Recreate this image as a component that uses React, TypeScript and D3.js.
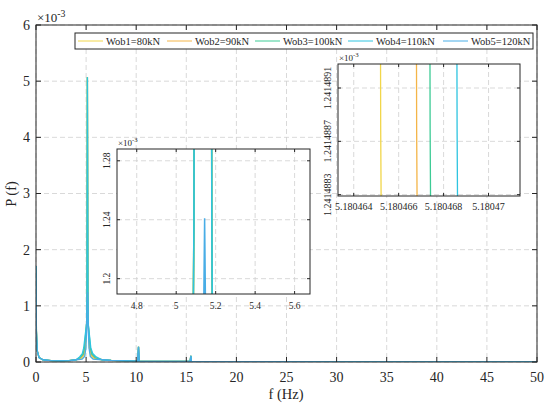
import * as d3 from "d3";
import React from "react";

// spectrum values are in units of 1e-3
type Pt = [number, number];

const seriesNames = ["Wob1=80kN", "Wob2=90kN", "Wob3=100kN", "Wob4=110kN", "Wob5=120kN"];
const seriesColors = ["#f1d64a", "#f4b548", "#3dcb95", "#2ec4e0", "#48ade6"];

const lowBand: Pt[] = [
  [0, 1.71], [0.04, 0.55], [0.12, 0.2], [0.3, 0.08], [0.7, 0.04],
  [1.5, 0.025], [2.5, 0.02], [3.3, 0.025], [4.0, 0.04],
];
const highBand: Pt[] = [
  [6.6, 0.04], [7.5, 0.03], [9, 0.02], [10.15, 0.015], [10.23, 0.27], [10.3, 0.015],
  [12, 0.01], [15.38, 0.01], [15.45, 0.11], [15.52, 0.008], [20, 0.006],
  [30, 0.004], [40, 0.003], [50, 0.003],
];

const wob1Peak: Pt[] = [
  [4.5, 0.06], [4.8, 0.12], [4.93, 0.25], [5.06, 0.7], [5.09, 1.24], [5.13, 5.07],
  [5.1804652, 1.2414888], [5.2, 0.7], [5.33, 0.25], [5.47, 0.12], [5.8, 0.06],
];
const wob2Peak: Pt[] = [
  [4.45, 0.07], [4.75, 0.13], [4.88, 0.25], [5.06, 0.7], [5.09, 1.24], [5.13, 5.07],
  [5.1804668, 1.2414888], [5.2, 0.7], [5.38, 0.25], [5.52, 0.13], [5.85, 0.07],
];
const wob3Peak: Pt[] = [
  [4.4, 0.08], [4.7, 0.14], [4.83, 0.25], [5.06, 0.7], [5.09, 1.24], [5.13, 5.07],
  [5.1804674, 1.2414888], [5.2, 0.7], [5.43, 0.25], [5.58, 0.14], [5.9, 0.08],
];
const wob4Peak: Pt[] = [
  [4.35, 0.09], [4.62, 0.15], [4.76, 0.25], [5.06, 0.7], [5.09, 1.24], [5.13, 5.07],
  [5.1804686, 1.2414888], [5.2, 0.7], [5.47, 0.25], [5.66, 0.15], [6.0, 0.09],
];
const wob5Peak: Pt[] = [
  [4.6, 0.05], [4.86, 0.1], [4.98, 0.25], [5.06, 0.6], [5.138, 1.16], [5.144, 1.241],
  [5.15, 1.16], [5.21, 0.6], [5.29, 0.25], [5.42, 0.1], [5.7, 0.05],
];
const peaks = [wob1Peak, wob2Peak, wob3Peak, wob4Peak, wob5Peak];
const series: Pt[][] = peaks.map((p) => [...lowBand, ...p, ...highBand]);

const mainXTicks = [0, 5, 10, 15, 20, 25, 30, 35, 40, 45, 50];
const mainYTicks = [0, 1, 2, 3, 4, 5, 6];
const in1XTicks = [4.8, 5, 5.2, 5.4, 5.6];
const in1YTicks = [1.2, 1.24, 1.28];
const in2XTicks = [5.180464, 5.180466, 5.180468, 5.18047];
const in2XLabels = ["5.180464", "5.180466", "5.180468", "5.18047"];
const in2YTicks = [1.2414883, 1.2414887, 1.2414891];
const in2YLabels = ["1.2414883", "1.2414887", "1.2414891"];

const ink = "#262626";
const gridColor = "#cfcfcf";
const serif = "Liberation Serif";

type Box = { x0: number; x1: number; y0: number; y1: number };

// clip a polyline to the data window in data space (keeps double precision for tiny insets)
function clipToWindow(pts: Pt[], xd: [number, number], yd: [number, number]): Pt[][] {
  const out: Pt[][] = [];
  let cur: Pt[] = [];
  for (let i = 0; i < pts.length - 1; i++) {
    const [x0, y0] = pts[i];
    const [x1, y1] = pts[i + 1];
    const dx = x1 - x0, dy = y1 - y0;
    let t0 = 0, t1 = 1, ok = true;
    const p = [-dx, dx, -dy, dy];
    const q = [x0 - xd[0], xd[1] - x0, y0 - yd[0], yd[1] - y0];
    for (let k = 0; k < 4; k++) {
      if (p[k] === 0) {
        if (q[k] < 0) ok = false;
      } else {
        const r = q[k] / p[k];
        if (p[k] < 0) t0 = Math.max(t0, r);
        else t1 = Math.min(t1, r);
      }
    }
    if (!ok || t0 > t1) {
      if (cur.length) out.push(cur);
      cur = [];
      continue;
    }
    const a: Pt = [x0 + t0 * dx, y0 + t0 * dy];
    const b: Pt = [x0 + t1 * dx, y0 + t1 * dy];
    if (!cur.length || t0 > 0) {
      if (cur.length) out.push(cur);
      cur = [a];
    }
    cur.push(b);
    if (t1 < 1) {
      out.push(cur);
      cur = [];
    }
  }
  if (cur.length) out.push(cur);
  return out;
}

function Panel(props: {
  id: string;
  box: Box;
  xDomain: [number, number];
  yDomain: [number, number];
  xTicks: number[];
  yTicks: number[];
  xLabels?: string[];
  yLabels?: string[];
  fontSize: number;
  tickLen: number;
  lineWidth: number;
  rotateY: boolean;
  xLabelDy: number;
  yLabelDx: number;
  expFont: number;
}) {
  const { id, box, xTicks, yTicks, fontSize, tickLen } = props;
  const x = d3.scaleLinear().domain(props.xDomain).range([box.x0, box.x1]);
  const y = d3.scaleLinear().domain(props.yDomain).range([box.y1, box.y0]);
  const line = d3.line<Pt>().x((d) => x(d[0])).y((d) => y(d[1]));
  const fmt = (v: number) => String(+v.toPrecision(6));
  const xPad = (props.xDomain[1] - props.xDomain[0]) * 0.01;
  const yPad = (props.yDomain[1] - props.yDomain[0]) * 0.01;
  const win: [[number, number], [number, number]] = [
    [props.xDomain[0] - xPad, props.xDomain[1] + xPad],
    [props.yDomain[0] - yPad, props.yDomain[1] + yPad],
  ];
  return (
    <g>
      <defs>
        <clipPath id={id}>
          <rect x={box.x0} y={box.y0} width={box.x1 - box.x0} height={box.y1 - box.y0} />
        </clipPath>
      </defs>
      <rect x={box.x0} y={box.y0} width={box.x1 - box.x0} height={box.y1 - box.y0} fill="#fff" />
      <g stroke={gridColor} strokeWidth={0.8} strokeDasharray="5,3">
        {xTicks.map((t) => (
          <line key={"gx" + t} x1={x(t)} x2={x(t)} y1={box.y0} y2={box.y1} />
        ))}
        {yTicks.map((t) => (
          <line key={"gy" + t} x1={box.x0} x2={box.x1} y1={y(t)} y2={y(t)} />
        ))}
      </g>
      <g clipPath={`url(#${id})`} fill="none">
        {series.map((s, i) =>
          clipToWindow(s, win[0], win[1]).map((piece, j) => (
            <path
              key={i + "-" + j}
              d={line(piece) || ""}
              stroke={seriesColors[i]}
              strokeWidth={props.lineWidth}
            />
          ))
        )}
      </g>
      <g stroke={ink} strokeWidth={1}>
        {xTicks.map((t) => (
          <g key={"tx" + t}>
            <line x1={x(t)} x2={x(t)} y1={box.y1} y2={box.y1 - tickLen} />
            <line x1={x(t)} x2={x(t)} y1={box.y0} y2={box.y0 + tickLen} />
          </g>
        ))}
        {yTicks.map((t) => (
          <g key={"ty" + t}>
            <line x1={box.x0} x2={box.x0 + tickLen} y1={y(t)} y2={y(t)} />
            <line x1={box.x1} x2={box.x1 - tickLen} y1={y(t)} y2={y(t)} />
          </g>
        ))}
        <rect x={box.x0} y={box.y0} width={box.x1 - box.x0} height={box.y1 - box.y0} fill="none" />
      </g>
      <g fill={ink} fontFamily={serif} fontSize={fontSize}>
        {xTicks.map((t, i) => (
          <text key={"lx" + t} x={x(t)} y={box.y1 + props.xLabelDy} textAnchor="middle">
            {props.xLabels ? props.xLabels[i] : fmt(t)}
          </text>
        ))}
        {yTicks.map((t, i) =>
          props.rotateY ? (
            <text
              key={"ly" + t}
              transform={`translate(${box.x0 - props.yLabelDx},${y(t)}) rotate(-90)`}
              textAnchor="middle"
            >
              {props.yLabels ? props.yLabels[i] : fmt(t)}
            </text>
          ) : (
            <text key={"ly" + t} x={box.x0 - props.yLabelDx} y={y(t)} dy="0.35em" textAnchor="end">
              {props.yLabels ? props.yLabels[i] : fmt(t)}
            </text>
          )
        )}
        <text x={box.x0 + 1} y={box.y0 - 3} fontSize={props.expFont}>
          ×10
          <tspan dy={-props.expFont * 0.4} fontSize={props.expFont * 0.75}>-3</tspan>
        </text>
      </g>
    </g>
  );
}

function Legend() {
  const lineStarts = [78, 167, 255, 348, 443];
  return (
    <g>
      <rect x={75} y={33} width={458} height={16} fill="#fff" stroke={ink} strokeWidth={1} />
      {seriesNames.map((n, i) => (
        <g key={n}>
          <line x1={lineStarts[i]} x2={lineStarts[i] + 25} y1={41} y2={41} stroke={seriesColors[i]} strokeWidth={1} />
          <text x={lineStarts[i] + 28} y={44.5} fontFamily={serif} fontSize={10.5} fill={ink}>
            {n}
          </text>
        </g>
      ))}
    </g>
  );
}

export default function App() {
  return (
    <svg
      width={550}
      height={412}
      style={{ position: "absolute", left: 0, top: 0, background: "#fff" }}
    >
      <rect width={550} height={412} fill="#fff" />
      <Panel
        id="clipMain"
        box={{ x0: 36, x1: 537, y0: 25, y1: 362 }}
        xDomain={[0, 50]}
        yDomain={[0, 6]}
        xTicks={mainXTicks}
        yTicks={mainYTicks}
        fontSize={14}
        tickLen={5}
        lineWidth={1.3}
        rotateY={false}
        xLabelDy={20}
        yLabelDx={6}
        expFont={13}
      />
      <text x={286} y={399} textAnchor="middle" fontFamily={serif} fontSize={14.5} fill={ink}>
        f (Hz)
      </text>
      <text
        transform="translate(16,194) rotate(-90)"
        textAnchor="middle"
        fontFamily={serif}
        fontSize={14.5}
        fill={ink}
      >
        P (f)
      </text>
      <Legend />
      <Panel
        id="clipIn1"
        box={{ x0: 117, x1: 310, y0: 149, y1: 294 }}
        xDomain={[4.7, 5.678]}
        yDomain={[1.1896, 1.288]}
        xTicks={in1XTicks}
        yTicks={in1YTicks}
        fontSize={9.5}
        tickLen={3}
        lineWidth={1.5}
        rotateY={true}
        xLabelDy={15}
        yLabelDx={7}
        expFont={9}
      />
      <Panel
        id="clipIn2"
        box={{ x0: 338, x1: 520, y0: 64, y1: 196 }}
        xDomain={[5.1804633, 5.1804714]}
        yDomain={[1.24148829, 1.24148928]}
        xTicks={in2XTicks}
        yTicks={in2YTicks}
        xLabels={in2XLabels}
        yLabels={in2YLabels}
        fontSize={10}
        tickLen={3}
        lineWidth={1.3}
        rotateY={true}
        xLabelDy={14}
        yLabelDx={7}
        expFont={9}
      />
    </svg>
  );
}
